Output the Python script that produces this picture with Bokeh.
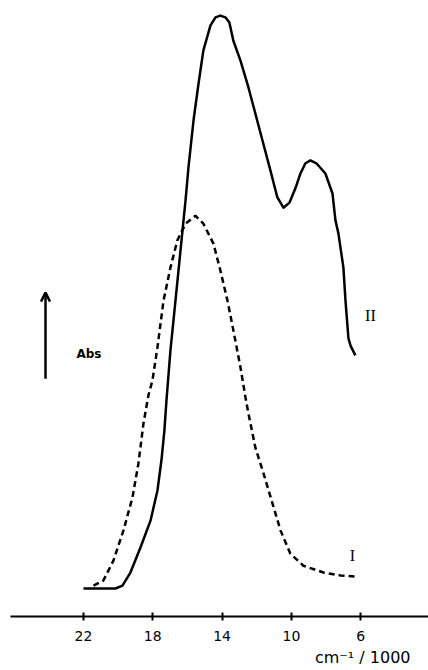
from bokeh.plotting import figure
from bokeh.models import Range1d, FixedTicker, Arrow, OpenHead, Label, Title
from bokeh.embed import file_html
from bokeh.resources import INLINE

# Curve II (solid): wavenumber (cm-1 / 1000) and absorbance (arb. units)
wn_II = [22.00, 21.02, 20.15, 19.75, 19.29, 18.71, 18.13, 17.73, 17.50, 17.33,
         17.21, 16.98, 16.69, 16.40, 16.11, 15.94, 15.65, 15.36, 15.08, 14.67,
         14.38, 14.10, 13.81, 13.58, 13.35, 12.94, 12.48, 12.08, 11.67, 11.21,
         10.81, 10.46, 10.11, 9.77, 9.48, 9.19, 8.90, 8.56, 8.04, 7.63,
         7.46, 7.29, 7.00, 6.88, 6.71, 6.59, 6.31]
abs_II = [0.000, 0.000, 0.000, 0.005, 0.028, 0.072, 0.119, 0.172, 0.225, 0.277,
          0.330, 0.418, 0.505, 0.593, 0.681, 0.739, 0.821, 0.886, 0.944, 0.988,
          1.002, 1.005, 1.002, 0.993, 0.961, 0.926, 0.879, 0.833, 0.786, 0.733,
          0.686, 0.668, 0.677, 0.702, 0.728, 0.746, 0.751, 0.746, 0.728, 0.693,
          0.646, 0.623, 0.563, 0.505, 0.439, 0.426, 0.409]

# Curve I (dashed)
wn_I = [21.42, 20.85, 20.27, 19.69, 19.17, 18.83, 18.54, 18.25, 18.02, 17.73,
        17.38, 16.98, 16.58, 16.11, 15.54, 15.08, 14.50, 14.10, 13.69, 13.35,
        12.94, 12.65, 12.48, 12.08, 11.61, 11.09, 10.63, 10.06, 9.31, 8.15,
        7.17, 6.31]
abs_I = [0.005, 0.014, 0.049, 0.102, 0.160, 0.219, 0.289, 0.339, 0.365, 0.423,
         0.505, 0.563, 0.611, 0.640, 0.654, 0.640, 0.605, 0.558, 0.505, 0.453,
         0.388, 0.335, 0.307, 0.247, 0.202, 0.149, 0.102, 0.061, 0.040, 0.028,
         0.023, 0.021]

tick_values = [22, 18, 14, 10, 6]
curve_labels = ["II", "I"]
axis_title = "cm\u207b\u00b9 / 1000"
abs_title = "Abs"

p = figure(width=428, height=670, output_backend="svg", toolbar_location=None,
           x_range=Range1d(26.21, 2.09), y_range=Range1d(-0.0491, 1.0175),
           y_axis_location=None, min_border_left=10, min_border_right=0,
           min_border_top=8, min_border_bottom=54)
p.outline_line_color = None
p.grid.visible = False
p.background_fill_color = "white"
p.border_fill_color = "white"

ax = p.xaxis[0]
ax.ticker = FixedTicker(ticks=tick_values)
ax.axis_line_width = 2
ax.axis_line_color = "black"
ax.major_tick_line_width = 2
ax.major_tick_in = 4
ax.major_tick_out = 4
ax.minor_tick_line_color = None
ax.major_label_text_font = "DejaVu Sans"
ax.major_label_text_font_size = "14px"
ax.major_label_text_color = "black"
ax.major_label_standoff = 10

# Axis title, right-aligned below the axis
p.add_layout(Title(text=axis_title, align="right", offset=18, standoff=5,
                   text_font="DejaVu Sans", text_font_size="16px",
                   text_font_style="normal", text_color="black"), "below")

p.line(wn_II, abs_II, line_color="black", line_width=2.5, line_join="round")
p.line(wn_I, abs_I, line_color="black", line_width=2.5, line_dash="6 4")

# Curve labels
p.add_layout(Label(x=5.44, y=0.479, text=curve_labels[0], text_font="Liberation Serif",
                   text_font_size="16px", text_align="center", text_baseline="middle",
                   text_color="black"))
p.add_layout(Label(x=6.48, y=0.058, text=curve_labels[1], text_font="Liberation Serif",
                   text_font_size="16px", text_align="center", text_baseline="middle",
                   text_color="black"))

# Abs arrow and label
p.add_layout(Arrow(x_start=24.19, y_start=0.368, x_end=24.19, y_end=0.519,
                   line_width=2.5, line_color="black",
                   end=OpenHead(size=9, line_width=2.5, line_color="black")))
p.add_layout(Label(x=21.68, y=0.412, text=abs_title, text_font="DejaVu Sans",
                   text_font_style="bold", text_font_size="12px",
                   text_align="center", text_baseline="middle", text_color="black"))

open("out.html", "w").write(file_html(p, INLINE))
